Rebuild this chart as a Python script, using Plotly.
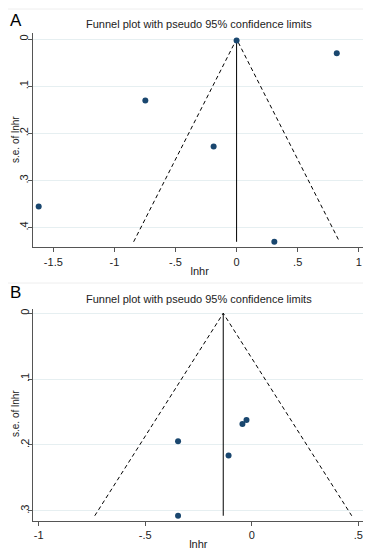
import plotly.graph_objects as go

# Panel A data
lnhr_a = [0.0, 0.82, -0.747, -0.188, -1.62, 0.309]
se_a = [0.003, 0.030, 0.130, 0.228, 0.355, 0.430]
pooled_a = 0.0

# Panel B data
lnhr_b = [-0.346, -0.109, -0.044, -0.025, -0.346]
se_b = [0.1945, 0.216, 0.168, 0.162, 0.3075]
pooled_b = -0.134

xticks_a = [-1.5, -1, -0.5, 0, 0.5, 1]
xtext_a = ["-1.5", "-1", "-.5", "0", ".5", "1"]
yticks_a = [0, 0.1, 0.2, 0.3, 0.4]
ytext_a = ["0", ".1", ".2", ".3", ".4"]
xticks_b = [-1, -0.5, 0, 0.5]
xtext_b = ["-1", "-.5", "0", ".5"]
yticks_b = [0, 0.1, 0.2, 0.3]
ytext_b = ["0", ".1", ".2", ".3"]

title_text = "Funnel plot with pseudo 95% confidence limits"
y_title = "s.e. of lnhr"
x_title = "lnhr"
# the page body has an 8px default margin, so the figure is offset by 8px
OFF = 8
W, H = 371 - OFF, 550 - OFF
NAVY = "#1a476f"
FONT = "Liberation Sans, Arial, sans-serif"


def px(x):
    return (x - OFF) / W


def py(y):
    return 1 - (y - OFF) / H


fig = go.Figure()


def add_panel(xs, ys, pooled, xa, ya):
    smax = max(ys)
    # funnel limits
    fig.add_trace(go.Scatter(
        x=[pooled - 1.96 * smax, pooled, pooled + 1.96 * smax],
        y=[smax, 0, smax], mode="lines",
        line=dict(color="black", width=1, dash="4px,3px"),
        xaxis=xa, yaxis=ya, showlegend=False, hoverinfo="skip"))
    # pooled estimate
    fig.add_trace(go.Scatter(
        x=[pooled, pooled], y=[0, smax], mode="lines",
        line=dict(color="black", width=1),
        xaxis=xa, yaxis=ya, showlegend=False, hoverinfo="skip"))
    fig.add_trace(go.Scatter(
        x=xs, y=ys, mode="markers",
        marker=dict(color=NAVY, size=6),
        xaxis=xa, yaxis=ya, showlegend=False))


add_panel(lnhr_a, se_a, pooled_a, "x", "y")
add_panel(lnhr_b, se_b, pooled_b, "x2", "y2")

axis_common = dict(
    showline=True, linecolor="#555555", linewidth=1,
    ticks="outside", ticklen=4, tickcolor="#555555",
    tickfont=dict(family=FONT, size=11, color="#222222"),
    zeroline=False, automargin=False,
    title_font=dict(family=FONT, size=11, color="#222222"),
)
yextra = dict(tickangle=-90, showgrid=True, gridcolor="#e6eff1", gridwidth=1,
              ticklabelstandoff=-5)

fig.update_layout(
    width=W, height=H,
    margin=dict(l=0, r=0, t=0, b=0),
    paper_bgcolor="white", plot_bgcolor="white",
    xaxis=dict(domain=[px(32.7), px(366.7)], range=[-1.669, 1.065],
               tickvals=xticks_a, ticktext=xtext_a, showgrid=False,
               anchor="y", title=dict(text=x_title, standoff=0), **axis_common),
    yaxis=dict(domain=[py(247.3), py(33)], range=[0.4417, -0.013],
               tickvals=yticks_a, ticktext=ytext_a, anchor="x",
               **yextra, **axis_common),
    xaxis2=dict(domain=[px(33.3), px(363.3)], range=[-1.025, 0.523],
                tickvals=xticks_b, ticktext=xtext_b, showgrid=False,
                anchor="y2", title=dict(text=x_title, standoff=0), **axis_common),
    yaxis2=dict(domain=[py(520.7), py(309.3)], range=[0.315, -0.006],
                tickvals=yticks_b, ticktext=ytext_b, anchor="x2",
                **yextra, **axis_common),
    font=dict(family=FONT, color="#222222"),
)

annots = [
    dict(text="A", x=px(8), y=py(20), xanchor="left", yanchor="middle",
         font=dict(family=FONT, size=17, color="black")),
    dict(text="B", x=px(8), y=py(292.5), xanchor="left", yanchor="middle",
         font=dict(family=FONT, size=17, color="black")),
    dict(text=title_text, x=px(198.5), y=py(24), xanchor="center", yanchor="middle",
         font=dict(family=FONT, size=11, color="#222222")),
    dict(text=title_text, x=px(198.5), y=py(299.3), xanchor="center", yanchor="middle",
         font=dict(family=FONT, size=11, color="#222222")),
    dict(text=y_title, x=px(7.5), y=py(140), xanchor="left", yanchor="middle",
         textangle=-90, font=dict(family=FONT, size=10, color="#222222")),
    dict(text=y_title, x=px(7.5), y=py(414), xanchor="left", yanchor="middle",
         textangle=-90, font=dict(family=FONT, size=10, color="#222222")),
]
for a in annots:
    fig.add_annotation(xref="paper", yref="paper", showarrow=False, **a)

# faint separator frames
for yy in [9, 283]:
    fig.add_shape(type="line", xref="paper", yref="paper", x0=0, x1=1,
                  y0=py(yy), y1=py(yy), line=dict(color="#eeeeee", width=1))

fig.write_html("out.html")
